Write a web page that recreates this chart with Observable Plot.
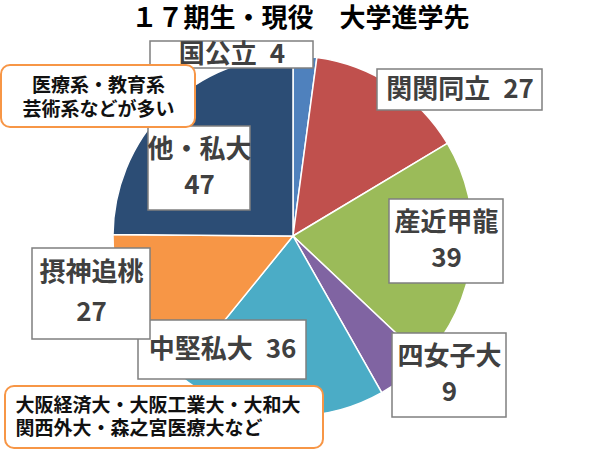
<!DOCTYPE html>
<html><head><meta charset="utf-8">
<script src="https://cdn.jsdelivr.net/npm/d3@7"></script>
<script src="https://cdn.jsdelivr.net/npm/@observablehq/plot@0.6"></script>
<style>body{margin:0;background:#fff} #chart{width:600px;height:450px}</style>
</head><body><div id="chart"></div>
<script>
// ---- data ----
const title = "１７期生・現役　大学進学先";
const categories = ["国公立", "関関同立", "産近甲龍", "四女子大", "中堅私大", "摂神追桃", "他・私大"];
const values = [4, 27, 39, 9, 36, 27, 47];
const colors = ["#4F81BD", "#C0504D", "#9BBB59", "#8064A2", "#4BACC6", "#F79646", "#2C4D75"];
const noteTop = ["医療系・教育系", "芸術系などが多い"];
const noteBottom = ["大阪経済大・大阪工業大・大和大", "関西外大・森之宮医療大など"];

// ---- layout (pixel space) ----
const pie = {cx: 293, cy: 236, r: 180};
const labelLayout = [
  {x1: 150, x2: 313, y1: 41, y2: 68, stacked: false},
  {x1: 377, x2: 542, y1: 69, y2: 110, stacked: false},
  {x1: 389, x2: 503, y1: 199, y2: 283, stacked: true},
  {x1: 392, x2: 506, y1: 333, y2: 417, stacked: true},
  {x1: 138, x2: 306, y1: 320, y2: 379, stacked: false},
  {x1: 32, x2: 150, y1: 248, y2: 339, stacked: true},
  {x1: 148, x2: 250, y1: 126, y2: 210, stacked: true}
];
const noteLayout = [
  {x1: 1, x2: 195, y1: 65, y2: 127, align: "middle", tx: 98, ty: [85, 109], lines: noteTop},
  {x1: 5, x2: 323, y1: 386, y2: 448, align: "start", tx: 15, ty: [405, 428], lines: noteBottom}
];

const table = categories.map((c, i) => ({category: c, value: values[i], color: colors[i]}));
const slices = d3.pie().sort(null).value(d => d.value).startAngle(0).endAngle(2 * Math.PI)(table);

const boxes = table.map((d, i) => ({...d, ...labelLayout[i]}));
const labelTexts = [];
boxes.forEach(b => {
  const xm = (b.x1 + b.x2) / 2;
  if (b.stacked) {
    labelTexts.push({x: xm, y: b.y1 + (b.y2 - b.y1) * 0.27, text: b.category});
    labelTexts.push({x: xm, y: b.y1 + (b.y2 - b.y1) * 0.71, text: String(b.value)});
  } else {
    labelTexts.push({x: xm, y: (b.y1 + b.y2) / 2, text: `${b.category}\u2002${b.value}`});
  }
});
const noteTexts = [];
noteLayout.forEach(n => n.lines.forEach((t, i) => noteTexts.push({x: n.tx, y: n.ty[i], text: t, align: n.align})));

function pieMark(index, scales) {
  const {x, y} = scales;
  const cx = x(pie.cx), cy = y(pie.cy), r = x(pie.cx + pie.r) - cx;
  const arc = d3.arc().innerRadius(0).outerRadius(r);
  const g = d3.create("svg:g").attr("transform", `translate(${cx},${cy})`);
  g.selectAll("path").data(slices).join("path")
    .attr("d", arc)
    .attr("fill", d => d.data.color)
    .attr("stroke", "white")
    .attr("stroke-width", 1.5)
    .attr("stroke-linejoin", "round");
  return g.node();
}

const font = "'Noto Sans CJK JP', 'Noto Sans', sans-serif";
const chart = Plot.plot({
  width: 600, height: 450,
  margin: 0,
  style: {fontFamily: font, background: "white"},
  x: {domain: [0, 600], range: [0, 600], axis: null},
  y: {domain: [0, 450], range: [0, 450], axis: null},
  marks: [
    pieMark,
    Plot.rect(boxes, {x1: "x1", x2: "x2", y1: "y1", y2: "y2", fill: "white", stroke: "#7f7f7f", strokeWidth: 1.5}),
    Plot.text(labelTexts, {x: "x", y: "y", text: "text", fontSize: 26, fontWeight: "bold", fill: "#404040", fontFamily: font}),
    Plot.rect(noteLayout, {x1: "x1", x2: "x2", y1: "y1", y2: "y2", fill: "white", stroke: "#F79646", strokeWidth: 2, rx: 9}),
    Plot.text(noteTexts.filter(d => d.align === "middle"), {x: "x", y: "y", text: "text", fontSize: 19, fontWeight: "bold", fill: "#111", textAnchor: "middle", fontFamily: font}),
    Plot.text(noteTexts.filter(d => d.align === "start"), {x: "x", y: "y", text: "text", fontSize: 19, fontWeight: "bold", fill: "#111", textAnchor: "start", fontFamily: font}),
    Plot.text([title], {x: () => 300, y: () => 18, text: d => d, fontSize: 26, fontWeight: "bold", fill: "#000", fontFamily: font})
  ]
});
document.getElementById("chart").appendChild(chart);
</script>
</body></html>
